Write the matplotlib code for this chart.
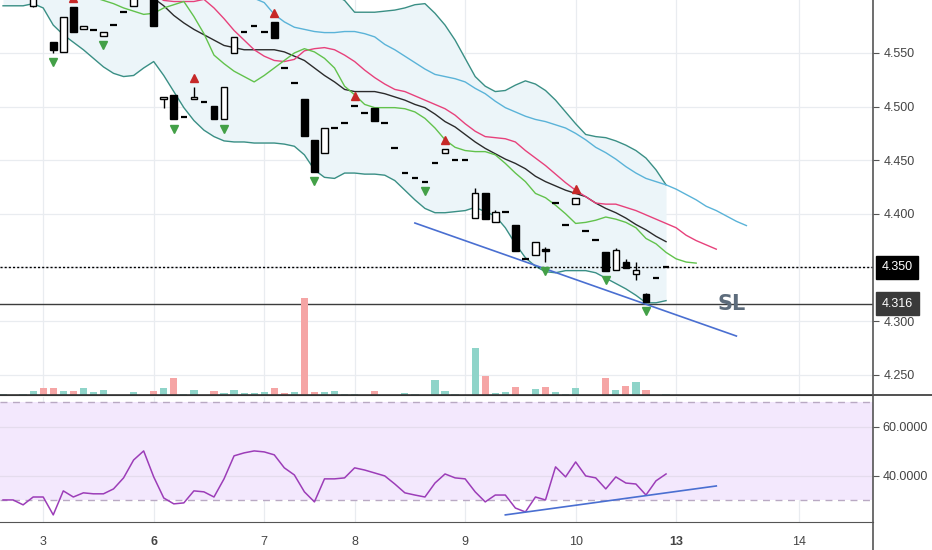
import matplotlib
matplotlib.use('Agg')
import matplotlib.pyplot as plt
from matplotlib.patches import Rectangle
from matplotlib.lines import Line2D

plt.rcParams['font.family'] = ['Liberation Sans', 'DejaVu Sans']

# --- candles (one per bar, bar 0 is the leftmost) ---
opens = [4.612, 4.610, 4.606, 4.594, 4.614, 4.560, 4.551, 4.593, 4.572, 4.571,
         4.566, 4.576, 4.588, 4.594, 4.606, 4.606, 4.507, 4.511, 4.490, 4.507,
         4.504, 4.501, 4.488, 4.550, 4.570, 4.575, 4.570, 4.579, 4.536, 4.522,
         4.507, 4.469, 4.457, 4.480, 4.485, 4.501, 4.494, 4.499, 4.485, 4.461,
         4.438, 4.433, 4.430, 4.447, 4.457, 4.450, 4.450, 4.396, 4.419, 4.392,
         4.402, 4.390, 4.358, 4.362, 4.367, 4.410, 4.390, 4.409, 4.384, 4.376,
         4.364, 4.348, 4.355, 4.344, 4.325, 4.340, 4.350]
highs = [4.618, 4.613, 4.609, 4.608, 4.616, 4.560, 4.584, 4.593, 4.575, 4.571,
         4.570, 4.576, 4.588, 4.606, 4.610, 4.608, 4.509, 4.511, 4.490, 4.518,
         4.504, 4.501, 4.518, 4.565, 4.570, 4.575, 4.570, 4.579, 4.536, 4.522,
         4.507, 4.469, 4.480, 4.480, 4.485, 4.501, 4.494, 4.499, 4.485, 4.461,
         4.438, 4.433, 4.430, 4.447, 4.460, 4.450, 4.450, 4.424, 4.419, 4.404,
         4.402, 4.390, 4.358, 4.374, 4.369, 4.410, 4.390, 4.415, 4.384, 4.376,
         4.364, 4.368, 4.358, 4.355, 4.326, 4.340, 4.350]
lows = [4.606, 4.605, 4.601, 4.593, 4.602, 4.550, 4.551, 4.570, 4.572, 4.571,
        4.566, 4.576, 4.588, 4.594, 4.604, 4.575, 4.499, 4.488, 4.490, 4.507,
        4.504, 4.488, 4.488, 4.550, 4.570, 4.575, 4.570, 4.564, 4.536, 4.522,
        4.473, 4.439, 4.457, 4.480, 4.485, 4.501, 4.494, 4.487, 4.485, 4.461,
        4.438, 4.433, 4.430, 4.447, 4.457, 4.450, 4.450, 4.396, 4.395, 4.392,
        4.402, 4.365, 4.358, 4.362, 4.355, 4.410, 4.390, 4.409, 4.384, 4.376,
        4.347, 4.348, 4.349, 4.338, 4.318, 4.340, 4.350]
closes = [4.610, 4.608, 4.604, 4.606, 4.604, 4.553, 4.584, 4.570, 4.575, 4.571,
          4.570, 4.576, 4.588, 4.604, 4.608, 4.575, 4.509, 4.488, 4.490, 4.509,
          4.504, 4.488, 4.518, 4.565, 4.570, 4.575, 4.570, 4.564, 4.536, 4.522,
          4.473, 4.439, 4.480, 4.480, 4.485, 4.501, 4.494, 4.487, 4.485, 4.461,
          4.438, 4.433, 4.430, 4.447, 4.460, 4.450, 4.450, 4.419, 4.395, 4.402,
          4.402, 4.365, 4.358, 4.374, 4.365, 4.410, 4.390, 4.415, 4.384, 4.376,
          4.347, 4.366, 4.349, 4.348, 4.318, 4.340, 4.350]

volume = [1, 0, 1, 4, 7, 7, 4, 4, 7, 3, 5, 0, 0, 3, 0, 4, 7, 17, 1, 5,
          0, 4, 2, 5, 2, 2, 3, 7, 2, 3, 97, 3, 3, 4, 1, 1, 0, 4, 0, 0,
          2, 1, 0, 15, 4, 1, 0, 47, 19, 2, 3, 8, 0, 6, 8, 3, 1, 7, 0, 0,
          17, 5, 9, 13, 5, 0, 1]
vol_dir = list('uuuudduduu' 'uuuuududuu' 'uduuuuuddu' 'dduuuuuduu'
               'uuuuuuuudu' 'uduuduuuuu' 'dududuu')

# --- Bollinger bands ---
bb_upper = [4.665, 4.664, 4.662, 4.660, 4.658, 4.656, 4.654, 4.652, 4.650, 4.648,
            4.646, 4.644, 4.642, 4.640, 4.638, 4.636, 4.634, 4.632, 4.630, 4.628,
            4.626, 4.624, 4.622, 4.621, 4.620, 4.619, 4.618, 4.617, 4.616, 4.614,
            4.612, 4.610, 4.607, 4.604, 4.599, 4.588, 4.588, 4.588, 4.589, 4.590,
            4.592, 4.595, 4.596, 4.587, 4.576, 4.562, 4.545, 4.528, 4.519, 4.514,
            4.515, 4.520, 4.524, 4.521, 4.515, 4.506, 4.495, 4.484, 4.474, 4.472,
            4.471, 4.468, 4.464, 4.459, 4.452, 4.441, 4.427]
bb_basis = [4.640, 4.638, 4.636, 4.634, 4.632, 4.630, 4.628, 4.626, 4.624, 4.622,
            4.619, 4.616, 4.613, 4.609, 4.605, 4.601, 4.594, 4.585, 4.578, 4.572,
            4.567, 4.562, 4.557, 4.555, 4.553, 4.553, 4.553, 4.553, 4.551, 4.547,
            4.543, 4.536, 4.529, 4.523, 4.516, 4.514, 4.514, 4.514, 4.512, 4.509,
            4.506, 4.502, 4.499, 4.493, 4.486, 4.481, 4.474, 4.467, 4.461, 4.456,
            4.451, 4.447, 4.442, 4.435, 4.430, 4.426, 4.422, 4.419, 4.416, 4.410,
            4.405, 4.401, 4.396, 4.390, 4.385, 4.379, 4.374]
bb_lower = [4.594, 4.594, 4.594, 4.596, 4.592, 4.576, 4.567, 4.560, 4.553, 4.545,
            4.537, 4.531, 4.528, 4.529, 4.536, 4.542, 4.529, 4.514, 4.499, 4.487,
            4.478, 4.472, 4.468, 4.467, 4.467, 4.466, 4.466, 4.466, 4.465, 4.463,
            4.455, 4.441, 4.434, 4.433, 4.438, 4.438, 4.437, 4.437, 4.436, 4.431,
            4.422, 4.413, 4.405, 4.401, 4.401, 4.402, 4.403, 4.406, 4.402, 4.398,
            4.387, 4.372, 4.359, 4.351, 4.346, 4.345, 4.347, 4.347, 4.347, 4.345,
            4.340, 4.335, 4.330, 4.324, 4.317, 4.317, 4.319]

# --- Alligator (shifted forward, so longer than the candle list) ---
jaw = [4.660, 4.658, 4.656, 4.654, 4.652, 4.650, 4.648, 4.646, 4.644, 4.642,
       4.640, 4.638, 4.636, 4.634, 4.632, 4.630, 4.628, 4.626, 4.624, 4.621,
       4.618, 4.615, 4.612, 4.608, 4.604, 4.601, 4.597, 4.586, 4.579, 4.574,
       4.572, 4.570, 4.569, 4.569, 4.570, 4.570, 4.568, 4.565, 4.558, 4.553,
       4.547, 4.541, 4.535, 4.530, 4.528, 4.526, 4.523, 4.517, 4.512, 4.505,
       4.499, 4.495, 4.491, 4.488, 4.486, 4.483, 4.480, 4.475, 4.469, 4.462,
       4.457, 4.451, 4.444, 4.438, 4.433, 4.430, 4.427, 4.423, 4.418, 4.413,
       4.407, 4.403, 4.398, 4.393, 4.389]
teeth = [4.640, 4.638, 4.636, 4.634, 4.632, 4.630, 4.628, 4.626, 4.624, 4.622,
         4.620, 4.618, 4.615, 4.612, 4.608, 4.604, 4.599, 4.598, 4.598, 4.598,
         4.600, 4.592, 4.582, 4.571, 4.562, 4.553, 4.547, 4.543, 4.542, 4.544,
         4.552, 4.554, 4.555, 4.553, 4.548, 4.542, 4.534, 4.527, 4.521, 4.516,
         4.514, 4.510, 4.506, 4.502, 4.498, 4.492, 4.484, 4.477, 4.472, 4.471,
         4.470, 4.467, 4.459, 4.452, 4.445, 4.437, 4.429, 4.422, 4.416, 4.410,
         4.409, 4.409, 4.406, 4.403, 4.399, 4.395, 4.391, 4.387, 4.380, 4.375,
         4.371, 4.367]
lips = [4.625, 4.623, 4.621, 4.619, 4.617, 4.615, 4.612, 4.609, 4.605, 4.602,
        4.599, 4.596, 4.592, 4.589, 4.586, 4.587, 4.592, 4.595, 4.598, 4.584,
        4.568, 4.548, 4.540, 4.533, 4.528, 4.523, 4.529, 4.536, 4.543, 4.550,
        4.554, 4.551, 4.545, 4.536, 4.519, 4.511, 4.502, 4.499, 4.499, 4.499,
        4.498, 4.495, 4.489, 4.480, 4.469, 4.462, 4.459, 4.458, 4.458, 4.455,
        4.447, 4.438, 4.430, 4.419, 4.415, 4.408, 4.400, 4.391, 4.392, 4.394,
        4.397, 4.395, 4.392, 4.387, 4.377, 4.372, 4.364, 4.358, 4.355, 4.354]

# fractal bars
fractal_up = [7, 19, 27, 35, 44, 57]
fractal_down = [5, 10, 17, 22, 31, 42, 54, 60, 64]

# --- RSI ---
rsi = [30.2, 30.2, 28.2, 31.4, 31.4, 24.1, 33.9, 31.4, 33.1, 32.7,
       32.7, 34.7, 39.2, 46.5, 50.2, 39.6, 31.0, 28.6, 29.0, 33.9,
       33.5, 31.4, 38.8, 48.2, 49.4, 50.2, 49.8, 48.6, 43.3, 40.4,
       33.5, 29.4, 38.8, 38.8, 39.2, 43.3, 42.4, 41.2, 40.0, 36.7,
       33.1, 32.2, 31.4, 37.1, 40.8, 39.2, 38.8, 33.5, 29.4, 32.2,
       32.2, 26.9, 25.3, 31.4, 30.2, 43.7, 39.6, 45.7, 40.0, 39.2,
       34.7, 39.6, 37.1, 36.7, 32.2, 38.0, 40.8]

# hand drawn trend lines (bar, value)
price_trend_x = [41.0, 73.0]
price_trend_y = [4.3914, 4.2860]
rsi_trend_x = [50.0, 71.0]
rsi_trend_y = [24.1, 35.9]

last_price = 4.350
stop_loss = 4.316

price_ticks = [4.25, 4.30, 4.40, 4.45, 4.50, 4.55]
day_pos = [4, 15, 26, 35, 46, 57, 67, 79.2]
day_labels = ['3', '6', '7', '8', '9', '10', '13', '14']
week_start = ['6', '13']

grid_c = '#e9ecf0'
axis_c = '#555555'
text_c = '#444444'

fig = plt.figure(figsize=(9.32, 5.5), dpi=100)
W, H = 932.0, 550.0


def box(x0, y0, x1, y1):
    return [x0 / W, 1 - y1 / H, (x1 - x0) / W, (y1 - y0) / H]


ax = fig.add_axes(box(0, 0, 873, 395))
rsi_ax = fig.add_axes(box(0, 397, 873, 522), sharex=ax)
# volume overlay (twinx flips the main y axis to the left, fixed below)
axv = ax.twinx()

n = len(closes)
bars = list(range(n))

# grid
for yv in [4.25, 4.30, 4.35, 4.40, 4.45, 4.50, 4.55]:
    ax.axhline(yv, color=grid_c, lw=0.9, zorder=0)
for xv in day_pos:
    ax.axvline(xv, color=grid_c, lw=0.9, zorder=0)
    rsi_ax.axvline(xv, color=grid_c, lw=0.9, zorder=0)

# bollinger
ax.fill_between(bars, bb_lower, bb_upper, color='#ecf5f9', zorder=1, lw=0)
ax.plot(bars, bb_upper, color='#3a8f85', lw=1, zorder=2)
ax.plot(bars, bb_lower, color='#3a8f85', lw=1, zorder=2)
ax.plot(bars, bb_basis, color='#2b2b2b', lw=1, zorder=2)

# alligator
ax.plot(range(len(jaw)), jaw, color='#5ab3d8', lw=1, zorder=2)
ax.plot(range(len(teeth)), teeth, color='#e7417b', lw=1, zorder=2)
ax.plot(range(len(lips)), lips, color='#62c24c', lw=1, zorder=2)

# candles
bw = 0.66
for i in bars:
    o, h, l, c = opens[i], highs[i], lows[i], closes[i]
    if h > max(o, c) or l < min(o, c):
        ax.vlines(i, l, h, color='black', lw=1, zorder=4)
    if o == c:
        ax.hlines(o, i - bw / 2, i + bw / 2, color='black', lw=1.6, zorder=5)
    else:
        up = c > o
        ax.add_patch(Rectangle((i - bw / 2, min(o, c)), bw, abs(c - o),
                               facecolor='white' if up else 'black',
                               edgecolor='black', lw=1, zorder=5))

# fractals
off = 0.0085
ax.plot(fractal_up, [highs[i] + off for i in fractal_up], ls='none',
        marker='^', ms=5.5, color='#c62828', zorder=6)
ax.plot(fractal_down, [lows[i] - off for i in fractal_down], ls='none',
        marker='v', ms=5.5, color='#43a047', zorder=6)

# levels
ax.axhline(last_price, color='black', lw=1, ls=(0, (1.5, 1.5)), zorder=3)
ax.axhline(stop_loss, color='#3c3c3c', lw=1, zorder=3)
ax.plot(price_trend_x, price_trend_y, color='#4a6fd1', lw=1.2, zorder=3)
ax.text(72.5, 4.3155, 'SL', fontsize=15, fontweight='bold', color='#5d6c7c',
        ha='center', va='center', family=['DejaVu Sans'], zorder=6)

ax.set_xlim(-0.3, 86.6)
ax.set_ylim(4.231, 4.5994)
ax.yaxis.tick_right()
ax.yaxis.set_label_position('right')
ax.set_yticks(price_ticks)
ax.set_yticklabels(['%.3f' % v for v in price_ticks])
ax.tick_params(axis='y', left=False, labelleft=False, right=True,
               labelright=True, length=4, color=axis_c, labelcolor=text_c,
               labelsize=9, pad=4)
ax.tick_params(axis='x', bottom=False, labelbottom=False)
for s in ['top', 'left', 'right']:
    ax.spines[s].set_visible(False)
ax.spines['bottom'].set_color('#333333')

yt = ax.get_yaxis_transform()
ax.text(1.010, last_price, '4.350', transform=yt, ha='left', va='center',
        color='white', fontsize=9, clip_on=False, zorder=10,
        bbox=dict(boxstyle='square,pad=0.45', fc='black', ec='black'))
ax.text(1.010, stop_loss, '4.316', transform=yt, ha='left', va='center',
        color='white', fontsize=9, clip_on=False, zorder=10,
        bbox=dict(boxstyle='square,pad=0.45', fc='#3a3a3a', ec='#3a3a3a'))

vcol = ['#8fd4c9' if d == 'u' else '#f5a5a5' for d in vol_dir]
axv.bar(bars, volume, width=0.72, color=vcol, zorder=1)
axv.set_ylim(0, 395)
axv.axis('off')

# RSI panel
rsi_ax.axhspan(30, 70, color='#f3e8fd', zorder=0, lw=0)
for yv in [40, 60]:
    rsi_ax.axhline(yv, color='#e4dced', lw=0.9, zorder=0)
for yv in [30, 70]:
    rsi_ax.axhline(yv, color='#b9a9c3', lw=1, ls=(0, (5, 4)), zorder=1)
rsi_ax.plot(bars, rsi, color='#9c3db8', lw=1.1, zorder=3)
rsi_ax.plot(rsi_trend_x, rsi_trend_y, color='#4a6fd1', lw=1.2, zorder=3)
rsi_ax.set_ylim(21.2, 72.2)
rsi_ax.yaxis.tick_right()
rsi_ax.set_yticks([40, 60])
rsi_ax.set_yticklabels(['40.0000', '60.0000'])
rsi_ax.tick_params(axis='y', length=4, color=axis_c, labelcolor=text_c,
                   labelsize=9, pad=3)
rsi_ax.set_xticks(day_pos)
rsi_ax.set_xticklabels(day_labels)
rsi_ax.tick_params(axis='x', length=0, labelcolor=text_c, labelsize=9, pad=10)
for lab in rsi_ax.get_xticklabels():
    if lab.get_text() in week_start:
        lab.set_fontweight('bold')
for s in ['top', 'left', 'right']:
    rsi_ax.spines[s].set_visible(False)
rsi_ax.spines['bottom'].set_color(axis_c)

# panel separator and price scale edge
fig.add_artist(Line2D([0, 1], [1 - 395 / H] * 2, transform=fig.transFigure,
                      color='#333333', lw=1.2))
fig.add_artist(Line2D([873 / W] * 2, [0, 1], transform=fig.transFigure,
                      color=axis_c, lw=1.2))

fig.savefig('out.png', dpi=100)
